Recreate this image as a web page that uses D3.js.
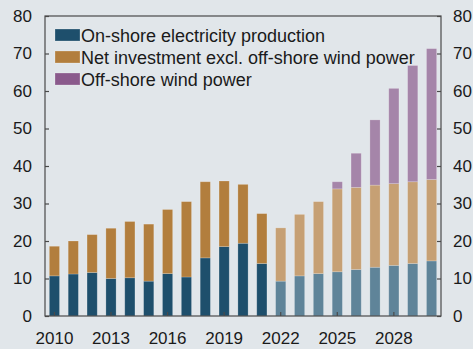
<!DOCTYPE html>
<html>
<head>
<meta charset="utf-8">
<script src="https://cdn.jsdelivr.net/npm/d3@7"></script>
<style>
  html, body { margin: 0; padding: 0; background: #e1e6ea; }
  svg { display: block; }
  text { font-family: "Liberation Sans", Arial, sans-serif; fill: #1a1a1a; }
</style>
</head>
<body>
<svg id="chart" width="473" height="349"></svg>
<script>
// Years on the x axis (from 2022 onwards the bars are projections)
const years = d3.range(2010, 2031);
const firstProjectionYear = 2022;

// Series values, billion
const onshore = [10.7, 11.2, 11.6, 10.0, 10.2, 9.3, 11.3, 10.4, 15.5, 18.5, 19.4,
                 14.0, 9.3, 10.7, 11.3, 11.8, 12.4, 13.0, 13.5, 14.0, 14.7];
const investment = [7.9, 8.8, 10.1, 13.4, 15.0, 15.2, 17.1, 20.1, 20.3, 17.5, 15.7,
                    13.3, 14.2, 16.4, 19.2, 22.1, 21.9, 21.9, 21.8, 21.8, 21.7];
const offshore = [0, 0, 0, 0, 0, 0, 0, 0, 0, 0, 0,
                  0, 0, 0, 0, 1.9, 9.1, 17.4, 25.4, 31.0, 34.9];

const seriesNames = ["On-shore electricity production",
                     "Net investment excl. off-shore wind power",
                     "Off-shore wind power"];
const yTicks = [0, 10, 20, 30, 40, 50, 60, 70, 80];
const xTickYears = [2010, 2013, 2016, 2019, 2022, 2025, 2028];

const colors = ["#1e4f6c", "#b27e3d", "#8a5a8c"];
const lightColors = ["#5f8499", "#c6a074", "#a585a9"];

const rows = years.map((y, i) => ({
  year: y, onshore: onshore[i], investment: investment[i], offshore: offshore[i]
}));
const keys = ["onshore", "investment", "offshore"];
const stacked = d3.stack().keys(keys)(rows);

const svg = d3.select("#chart");
const m = { left: 45, right: 32, top: 16, bottom: 33 };
const W = 473, H = 349;
const fontSize = 17;
const legendFontSize = 18;

const x = d3.scaleBand().domain(years).range([m.left, W - m.right]).paddingInner(0.46).paddingOuter(0.23);
const y = d3.scaleLinear().domain([0, 80]).range([H - m.bottom, m.top]);

// Bars
stacked.forEach((layer, li) => {
  svg.append("g").selectAll("rect").data(layer).join("rect")
    .attr("x", d => x(d.data.year))
    .attr("width", x.bandwidth())
    .attr("y", d => y(d[1]))
    .attr("height", d => Math.max(0, y(d[0]) - y(d[1])))
    .attr("fill", d => d.data.year >= firstProjectionYear ? lightColors[li] : colors[li])
    .attr("stroke", "rgba(255,255,255,0.25)")
    .attr("stroke-width", 0.8)
    .attr("display", d => d[1] - d[0] > 0 ? null : "none");
});

// Frame
const axisColor = "#4a4a4a";
svg.append("rect")
  .attr("x", m.left).attr("y", m.top)
  .attr("width", W - m.right - m.left).attr("height", H - m.bottom - m.top)
  .attr("fill", "none").attr("stroke", axisColor).attr("stroke-width", 1.2);

// Left axis (inward ticks)
const left = svg.append("g").attr("transform", `translate(${m.left},0)`)
  .call(d3.axisLeft(y).tickValues(yTicks).tickSize(-4).tickPadding(13).tickSizeOuter(0));
// Right axis (inward ticks)
const right = svg.append("g").attr("transform", `translate(${W - m.right},0)`)
  .call(d3.axisRight(y).tickValues(yTicks).tickSize(-4).tickPadding(12).tickSizeOuter(0));
// Bottom axis
const bottom = svg.append("g").attr("transform", `translate(0,${H - m.bottom})`)
  .call(d3.axisBottom(x).tickValues(xTickYears).tickFormat(d3.format("d")).tickSize(-4).tickPadding(16).tickSizeOuter(0));

[left, right, bottom].forEach(g => {
  g.select(".domain").remove();
  g.selectAll("line").attr("stroke", axisColor).attr("stroke-width", 1.2);
  g.selectAll("text").attr("font-size", fontSize).attr("fill", "#1a1a1a")
    .style("font-family", "'Liberation Sans', Arial, sans-serif");
});

// Legend
const legend = svg.append("g").attr("transform", "translate(55,29)");
seriesNames.forEach((name, i) => {
  const g = legend.append("g").attr("transform", `translate(0,${i * 22})`);
  g.append("rect").attr("width", 25).attr("height", 12)
    .attr("fill", colors[i]).attr("stroke", "rgba(255,255,255,0.3)").attr("stroke-width", 0.8);
  g.append("text").attr("x", 26).attr("y", 12.5).attr("font-size", legendFontSize).text(name);
});
</script>
</body>
</html>
